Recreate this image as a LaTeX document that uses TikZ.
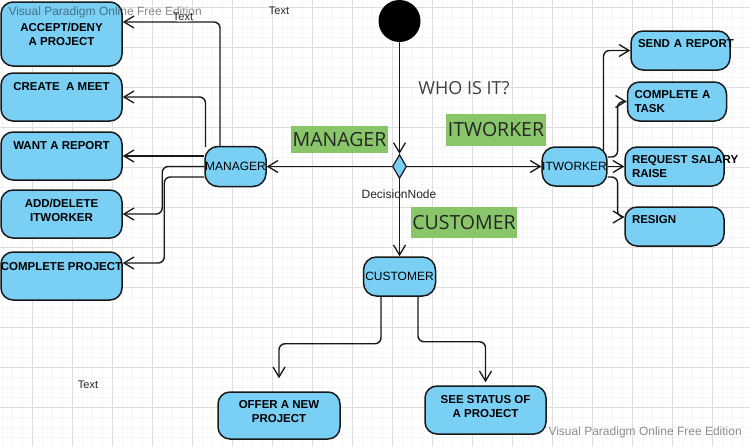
\documentclass[tikz,border=0pt]{standalone}
\usepackage{fontspec}
\setmainfont{Liberation Sans}
\newfontfamily\guardfont{Open Sans}
\usetikzlibrary{arrows.meta, shapes.geometric}

\definecolor{actblue}{RGB}{122,207,245}
\definecolor{guardgreen}{RGB}{137,198,106}
\definecolor{gridmajor}{RGB}{222,222,222}
\definecolor{gridminor}{RGB}{245,245,245}

\begin{document}
\begin{tikzpicture}[
    x=1pt, y=-1pt,
    action/.style={
        draw=black!90,
        fill=actblue,
        line width=1.5pt,
        rounded corners=12pt,
        align=center,
        inner sep=2pt,
        font=\fontsize{11.5}{13.8}\selectfont\bfseries
    },
    lbox/.style={action, minimum width=121pt, minimum height=48pt},
    rbox/.style={action, align=left, text width=85pt, inner xsep=7pt, minimum height=39pt},
    actor/.style={
        draw=black!90,
        fill=actblue,
        line width=1.5pt,
        rounded corners=13pt,
        inner sep=0pt,
        minimum height=39pt,
        font=\fontsize{12}{14}\selectfont
    },
    start/.style={circle, fill=black, minimum size=42pt, inner sep=0pt},
    decision/.style={diamond, draw=black!90, fill=actblue, line width=1.2pt,
        minimum width=14pt, minimum height=24pt, inner sep=0pt},
    guard/.style={fill=guardgreen, text=black!85, inner xsep=1.5pt,
        font=\guardfont\fontsize{19.5}{22}\selectfont},
    arrow/.style={-{Straight Barb[length=10pt, width=12pt, line width=1.3pt]},
        line width=1.4pt, draw=black!90, rounded corners=6pt},
    note/.style={text=black!85, font=\fontsize{11}{13}\selectfont},
    tag/.style={note, fill=white, inner sep=1pt},
    watermark/.style={text=black, text opacity=0.45, font=\fontsize{12}{14}\selectfont}
]

% background grid
\fill[white] (0,0) rectangle (750,447);
\useasboundingbox (0,0) rectangle (750,447);
\foreach \gx in {2,12,...,742} \draw[gridminor, line width=0.8pt] (\gx,0) -- (\gx,447);
\foreach \gy in {7,17,...,447} \draw[gridminor, line width=0.8pt] (0,\gy) -- (750,\gy);
\foreach \gx in {32,72,...,712} \draw[gridmajor, line width=0.9pt] (\gx,0) -- (\gx,447);
\foreach \gy in {7,47,...,447} \draw[gridmajor, line width=0.9pt] (0,\gy) -- (750,\gy);

% Start and decision
\node[start] (init) at (399.5,21) {};
\node[decision] (dec) at (399.5,166.5) {};
\node[note, font=\fontsize{12}{14}\selectfont] (decname) at (399,194) {DecisionNode};
\node[text=black!75, font=\guardfont\fontsize{18}{20}\selectfont] (who) at (464,88) {WHO IS IT?};

% Guards
\node[guard, minimum height=27pt] (gmgr) at (339.5,139.5) {MANAGER};
\node[guard, minimum height=32pt] (gitw) at (496,130) {ITWORKER};
\node[guard, minimum height=31pt] (gcust) at (464,222.5) {CUSTOMER};

% Actors
\node[actor, minimum width=61pt, minimum height=40pt] (mgr) at (235.5,166.5) {MANAGER};
\node[actor, minimum width=61pt] (itw) at (574.5,166.5) {ITWORKER};
\node[actor, minimum width=72pt] (cust) at (399.5,276.5) {CUSTOMER};

% Manager actions
\node[lbox, minimum height=64pt] (accept) at (61.5,34) {ACCEPT/DENY\\A PROJECT};
\node[lbox] (meet) at (61.5,97) {CREATE\ \ A MEET\\[8pt]\mbox{}};
\node[lbox] (want) at (61.5,156) {WANT A REPORT\\[8pt]\mbox{}};
\node[lbox] (add) at (61.5,214) {ADD/DELETE\\ITWORKER\\[-6pt]\mbox{}};
\node[lbox] (complete) at (61.5,276) {\makebox[100pt]{COMPLETE PROJECT}\\[6pt]\mbox{}};

% Itworker actions
\node[rbox] (send) at (680.5,50.5) {\mbox{SEND A REPORT}\\\mbox{}};
\node[rbox] (task) at (677,101.5) {COMPLETE A\\TASK};
\node[rbox] (req) at (674.5,166.5) {\mbox{REQUEST SALARY}\\RAISE};
\node[rbox] (resign) at (674.5,226.5) {RESIGN\\\mbox{}};

% Customer actions
\node[lbox, minimum width=122pt, minimum height=47pt] (offer) at (279,415.5) {OFFER A NEW\\PROJECT\\[-6pt]\mbox{}};
\node[lbox] (see) at (485.5,410) {SEE STATUS OF\\A PROJECT\\[-6pt]\mbox{}};

% Free texts
\node[note] (txttop) at (279,11) {Text};
\node[note] (txtbottom) at (88,385) {Text};

% Arrows
\draw[arrow] (init) -- (dec);
\draw[arrow] (dec.west) -- (mgr.east);
\draw[arrow] (dec.east) -- (itw.west);
\draw[arrow] (dec.south) -- (cust.north);

\draw[arrow] ([xshift=-15.5pt]mgr.north) |- node[tag, pos=0.69, above=0pt] {Text} ([yshift=12pt]accept.east);
\draw[arrow] ([xshift=-30pt, yshift=-1pt]mgr.north) |- (meet.east);
\draw[arrow] ([yshift=10.5pt]mgr.west) -- (want.east);
\draw[arrow] (mgr.west) -- ++(-42,0) |- (add.east);
\draw[arrow] ([yshift=-10.5pt]mgr.west) -- ++(-40,0) |- ([yshift=13pt]complete.east);

\draw[arrow] ([xshift=29pt, yshift=-5pt]itw.north) |- (send.west);
\draw[arrow] ([yshift=9.5pt]itw.east) -- ++(10,0) |- (task.west);
\draw[arrow] (itw.east) -- (req.west);
\draw[arrow] ([yshift=-10.5pt]itw.east) -- ++(10,0) |- ([yshift=9.5pt]resign.west);

\draw[arrow] ([xshift=-18.5pt]cust.south) -- ++(0,47) -| ([yshift=13pt]offer.north);
\draw[arrow] ([xshift=18.5pt]cust.south) -- ++(0,45) -| ([yshift=3pt]see.north);

% Watermarks
\node[watermark, anchor=west] (wmtop) at (5,12) {Visual Paradigm Online Free Edition};
\node[watermark, anchor=west] (wmbottom) at (545,432) {Visual Paradigm Online Free Edition};

\end{tikzpicture}
\end{document}
